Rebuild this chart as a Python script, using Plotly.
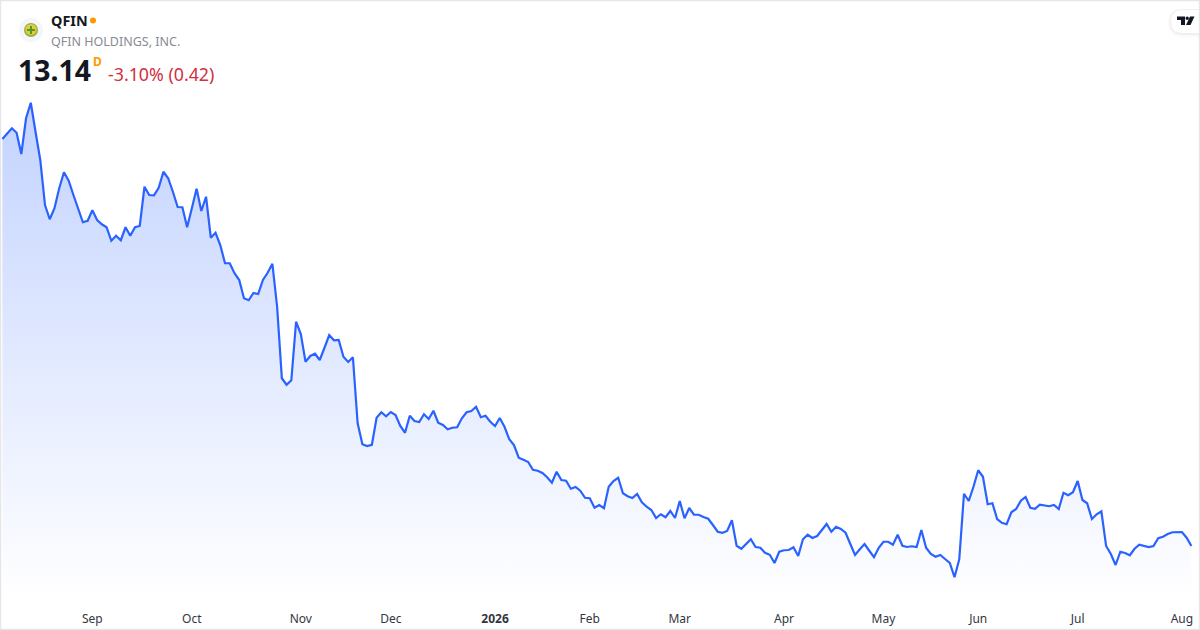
#!/usr/bin/env python3
"""QFIN one year area chart, single card with symbol header."""
import plotly.graph_objects as go

# closing prices, one per trading day
closes = [
    29.42, 29.65, 29.85, 29.67, 28.82, 30.25, 30.87, 29.71, 28.58, 26.78,
    26.21, 26.65, 27.45, 28.09, 27.75, 27.18, 26.65, 26.09, 26.15, 26.57,
    26.18, 26.01, 25.89, 25.35, 25.55, 25.37, 25.89, 25.55, 25.89, 25.94,
    27.51, 27.18, 27.17, 27.47, 28.11, 27.85, 27.31, 26.70, 26.69, 25.89,
    26.65, 27.43, 26.54, 27.11, 25.47, 25.67, 25.18, 24.45, 24.45, 24.05,
    23.78, 23.05, 22.97, 23.26, 23.22, 23.78, 24.07, 24.43, 22.71, 19.85,
    19.59, 19.77, 22.11, 21.62, 20.51, 20.74, 20.83, 20.58, 21.07, 21.58,
    21.37, 21.38, 20.71, 20.50, 20.69, 18.05, 17.21, 17.14, 17.19, 18.27,
    18.49, 18.33, 18.50, 18.38, 17.94, 17.67, 18.35, 18.14, 18.10, 18.41,
    18.22, 18.55, 18.07, 17.98, 17.81, 17.87, 17.89, 18.25, 18.49, 18.54,
    18.71, 18.29, 18.35, 18.11, 17.94, 18.26, 17.91, 17.41, 17.18, 16.67,
    16.59, 16.50, 16.19, 16.15, 16.06, 15.89, 15.67, 16.11, 15.78, 15.75,
    15.43, 15.50, 15.35, 15.07, 15.05, 14.67, 14.78, 14.65, 15.51, 15.74,
    15.87, 15.25, 15.13, 15.06, 15.22, 14.89, 14.71, 14.58, 14.26, 14.41,
    14.29, 14.54, 14.26, 14.94, 14.25, 14.66, 14.39, 14.39, 14.30, 14.23,
    13.98, 13.71, 13.67, 13.74, 14.17, 13.15, 13.03, 13.22, 13.41, 13.10,
    13.07, 12.87, 12.79, 12.46, 12.91, 12.97, 12.98, 13.09, 12.74, 13.41,
    13.59, 13.46, 13.54, 13.78, 14.02, 13.71, 13.91, 13.82, 13.67, 13.22,
    12.78, 13.01, 13.22, 12.95, 12.69, 13.07, 13.31, 13.31, 13.19, 13.59,
    13.15, 13.10, 13.13, 13.10, 13.78, 13.07, 12.82, 12.71, 12.78, 12.62,
    12.46, 11.89, 12.61, 15.23, 14.94, 15.51, 16.17, 15.91, 14.81, 14.85,
    14.22, 14.07, 14.01, 14.49, 14.62, 14.95, 15.10, 14.67, 14.63, 14.79,
    14.75, 14.73, 14.78, 14.62, 15.27, 15.17, 15.29, 15.74, 14.98, 14.85,
    14.22, 14.41, 14.53, 13.14, 12.82, 12.38, 12.91, 12.86, 12.77, 13.03,
    13.19, 13.15, 13.10, 13.14, 13.45, 13.51, 13.62, 13.69, 13.71, 13.70,
    13.47, 13.14,
]

# trading-day position of the first session of each month
tick_days = [19, 40, 63, 82, 104, 124, 143, 165, 186, 206, 227, 249]
tick_labels = ["Sep", "Oct", "Nov", "Dec", "<b>2026</b>", "Feb", "Mar", "Apr", "May", "Jun", "Jul", "Aug"]

FONT = "Noto Sans"
BLUE = "#2962ff"
WIDTH, HEIGHT, BOTTOM = 1200, 630, 30
PLOT_H = HEIGHT - BOTTOM


def px(x):
    return x / WIDTH


def py(y):
    return 1 - y / PLOT_H


def label(x, y, text, size, color, bold=False, anchor="left"):
    return dict(
        xref="paper", yref="paper", x=px(x), y=py(y), text=f"<b>{text}</b>" if bold else text,
        showarrow=False, xanchor=anchor, yanchor="middle",
        font=dict(family=FONT, size=size, color=color),
    )


def circle(cx, cy, r, color):
    return dict(
        type="circle", xref="paper", yref="paper", layer="above",
        x0=px(cx - r), x1=px(cx + r), y0=py(cy - r), y1=py(cy + r),
        fillcolor=color, line=dict(width=0),
    )


def poly(points, fill=None, line=None, width=0, close=True):
    path = "M " + " L ".join(f"{px(x)} {py(y)}" for x, y in points)
    return dict(
        type="path", xref="paper", yref="paper", layer="above",
        path=path + (" Z" if close else ""),
        fillcolor=fill or "rgba(0,0,0,0)", line=dict(width=width, color=line or "rgba(0,0,0,0)"),
    )


def tab_path(x0, y0, y1):
    # white tab with round left end, stuck to the right edge
    r = (y1 - y0) / 2
    return (
        f"M {px(WIDTH)} {py(y0)} L {px(x0 + r)} {py(y0)} "
        f"Q {px(x0)} {py(y0)} {px(x0)} {py(y0 + r)} "
        f"Q {px(x0)} {py(y1)} {px(x0 + r)} {py(y1)} L {px(WIDTH)} {py(y1)} Z"
    )


y_top = 34.98
y_bottom = y_top - 0.04 * PLOT_H

fig = go.Figure()
fig.add_trace(go.Scatter(
    x=list(range(len(closes))),
    y=closes,
    mode="lines",
    line=dict(color=BLUE, width=2.2),
    fill="tozeroy",
    fillgradient=dict(
        type="vertical",
        start=y_bottom,
        stop=max(closes),
        colorscale=[[0, "rgba(41,98,255,0)"], [1, "rgba(41,98,255,0.28)"]],
    ),
    hoverinfo="skip",
))

shapes = [
    # tradingview tab and its soft shadow
    dict(type="path", xref="paper", yref="paper", layer="above", path=tab_path(1168, 9, 37),
         fillcolor="rgba(0,0,0,0.02)", line=dict(width=0)),
    dict(type="path", xref="paper", yref="paper", layer="above", path=tab_path(1169.5, 9, 35),
         fillcolor="rgba(0,0,0,0.04)", line=dict(width=0)),
    dict(type="path", xref="paper", yref="paper", layer="above", path=tab_path(1171, 10, 33),
         fillcolor="white", line=dict(width=0)),
    poly([(1177, 16.5), (1185, 16.5), (1185, 25), (1181, 25), (1181, 20), (1177, 20)], fill="#131722"),
    circle(1187.2, 18.2, 1.7, "#131722"),
    poly([(1190, 16.5), (1194.5, 16.5), (1190.5, 25), (1186, 25)], fill="#131722"),
    # symbol logo
    circle(31, 30, 12, "#f5f6fb"),
    circle(31, 30, 7, "#8bb53c"),
    circle(31, 29.5, 5.6, "#e8c93a"),
    poly([(27, 30), (35, 30)], line="#4f9a35", width=2, close=False),
    poly([(31, 26), (31, 34)], line="#4f9a35", width=2, close=False),
    # market status dot
    circle(93, 20.5, 3, "#ff9800"),
    # card border
    poly([(0.5, 0.5), (1199.5, 0.5), (1199.5, 629.5), (0.5, 629.5)], line="#e6e6e9", width=1.5),
]

annotations = [
    label(49, 20.5, "QFIN", 14.4, "#131722", bold=True),
    label(49, 41, "QFIN HOLDINGS, INC.", 12.5, "#878b94"),
    label(15.5, 70.5, "13.14", 28.4, "#131722", bold=True),
    label(91, 61, "D", 12, "#ff9800", bold=True),
    label(106, 74.5, "-3.10% (0.42)", 17.8, "#d32f42"),
]

fig.update_layout(
    width=WIDTH,
    height=HEIGHT,
    margin=dict(l=0, r=0, t=0, b=BOTTOM),
    paper_bgcolor="white",
    plot_bgcolor="white",
    showlegend=False,
    hovermode=False,
    font=dict(family=FONT),
    xaxis=dict(
        range=[-0.5, 252.82],
        tickvals=tick_days,
        ticktext=tick_labels,
        showgrid=False,
        zeroline=False,
        showline=False,
        ticks="",
        tickangle=0,
        ticklabelstandoff=10,
        tickfont=dict(family=FONT, size=12, color="#333640"),
    ),
    yaxis=dict(range=[y_bottom, y_top], visible=False),
    shapes=shapes,
    annotations=annotations,
)

fig.write_html(
    "out.html",
    config={"displayModeBar": False},
    post_script="document.body.style.margin='0';",
)
